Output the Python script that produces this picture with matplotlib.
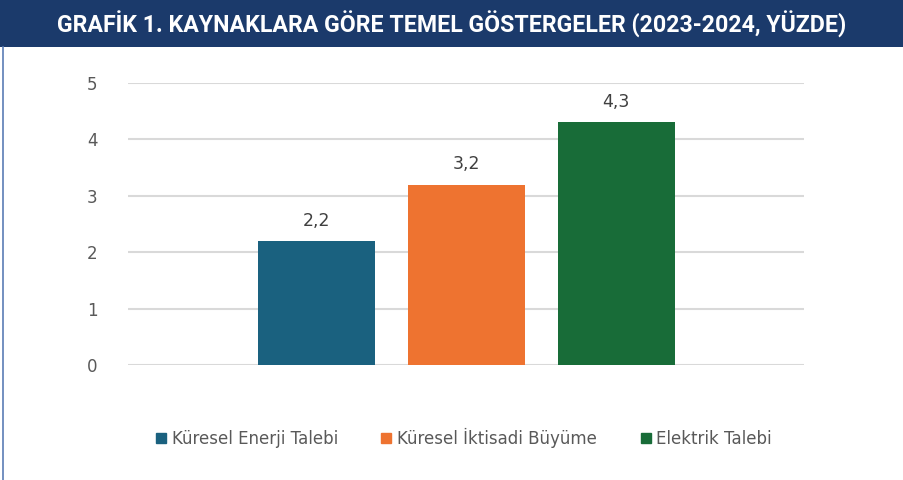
import numpy as np
import matplotlib.pyplot as plt
from matplotlib.patches import Rectangle
from matplotlib.lines import Line2D

# veriler
series = ["Küresel Enerji Talebi", "Küresel İktisadi Büyüme", "Elektrik Talebi"]
values = [2.2, 3.2, 4.3]
labels = ["2,2", "3,2", "4,3"]
colors = ["#1a617f", "#ee7330", "#186c38"]
yticks = [0, 1, 2, 3, 4, 5]

fig = plt.figure(figsize=(9.04, 4.8), dpi=100)

# baslik bandi
fig.patches.append(Rectangle((0, 1 - 47 / 480), 1, 47 / 480, transform=fig.transFigure,
                             facecolor="#1b3a6b", edgecolor="none", zorder=0))
fig.text(0.5, 1 - 24 / 480, "GRAFİK 1. KAYNAKLARA GÖRE TEMEL GÖSTERGELER (2023-2024, YÜZDE)",
         ha="center", va="center", color="white", fontsize=16.7, fontweight="bold",
         family=["Roboto", "DejaVu Sans"])
fig.lines.append(Line2D([3.5 / 904, 3.5 / 904], [0, 1 - 47 / 480], transform=fig.transFigure,
                        color="#5b7db5", linewidth=1.2))

ax = fig.add_axes([128 / 904, 115 / 480, 676 / 904, 282 / 480])
step = 150 / 676
width = 117 / 676
x = (np.arange(len(values)) - 1) * step
bars = ax.bar(x, values, width=width, color=colors, label=series, zorder=3)

for xi, v, lab in zip(x, values, labels):
    ax.text(xi, v + 0.2, lab, ha="center", va="bottom", fontsize=12.5, color="#404040")

ax.set_xlim(-0.5, 0.5)
ax.set_ylim(0, 5)
ax.set_yticks(yticks)
ax.set_xticks([])
ax.grid(axis="y", color="#d9d9d9", linewidth=1.5, zorder=0)
for s in ax.spines.values():
    s.set_visible(False)
ax.tick_params(axis="y", length=0, pad=22, labelsize=12, labelcolor="#595959")

handles = [Rectangle((0, 0), 1, 1, color=c) for c in colors]
fig.legend(handles, series, loc="center", bbox_to_anchor=(464 / 904, 1 - 438 / 480),
           ncol=3, frameon=False, fontsize=12, labelcolor="#595959",
           handlelength=0.6, handleheight=0.6, handletextpad=0.35, columnspacing=2.6)

plt.savefig("out.png", dpi=100)
